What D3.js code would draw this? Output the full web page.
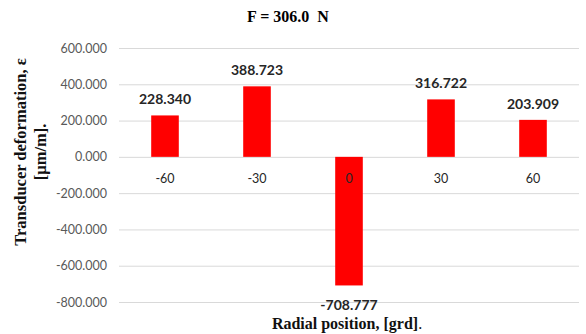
<!DOCTYPE html>
<html>
<head>
<meta charset="utf-8">
<script src="https://cdn.jsdelivr.net/npm/d3@7"></script>
<style>
body { margin: 0; background: #fff; }
</style>
</head>
<body>
<script>
var categories = ["-60", "-30", "0", "30", "60"];
var values = [228.340, 388.723, -708.777, 316.722, 203.909];
var yTicks = [600, 400, 200, 0, -200, -400, -600, -800];

var width = 586, height = 334;
var plotLeft = 119, plotRight = 579, plotTop = 48, plotBottom = 302;

// fixed 3 decimals, plain hyphen for negatives
var fmt = d => d3.format(".3f")(d).replace("\u2212", "-");

var svg = d3.select("body").append("svg")
  .attr("width", width)
  .attr("height", height)

var x = d3.scaleBand().domain(categories)
  .range([plotLeft, plotRight])
  .paddingInner(0.7)
  .paddingOuter(0.35)

var y = d3.scaleLinear().domain([-800, 600]).range([plotBottom, plotTop])

// gridlines
svg.append("g").selectAll("line")
  .data(yTicks)
  .enter().append("line")
  .attr("x1", plotLeft).attr("x2", plotRight)
  .attr("y1", d => y(d) + 0.5).attr("y2", d => y(d) + 0.5)
  .style("stroke", "#d9d9d9")
  .style("stroke-width", 1)

// y tick labels
var yAxis = d3.axisLeft(y).tickValues(yTicks).tickSize(0).tickPadding(12)
  .tickFormat(fmt)
svg.append("g")
  .attr("transform", "translate(" + plotLeft + ",0)")
  .call(yAxis)
  .call(g => g.select(".domain").remove())
  .selectAll("text")
  .style("font-family", "Lato")
  .style("font-size", "12.5px")
  .style("fill", "#595959")

// bars
svg.append("g").selectAll("rect")
  .data(values)
  .enter().append("rect")
  .attr("x", (d, i) => x(categories[i]))
  .attr("width", x.bandwidth())
  .attr("y", d => y(Math.max(0, d)))
  .attr("height", d => Math.abs(y(d) - y(0)))
  .attr("fill", "#ff0000")

// category labels
svg.append("g").selectAll("text")
  .data(categories)
  .enter().append("text")
  .attr("x", d => x(d) + x.bandwidth() / 2)
  .attr("y", y(0) + 26)
  .attr("text-anchor", "middle")
  .style("font-family", "Lato")
  .style("font-size", "12.5px")
  .style("fill", "#262626")
  .text(d => d)

// value labels
svg.append("g").selectAll("text")
  .data(values)
  .enter().append("text")
  .attr("x", (d, i) => x(categories[i]) + x.bandwidth() / 2)
  .attr("y", d => d >= 0 ? y(d) - 11 : y(d) + 25)
  .attr("text-anchor", "middle")
  .style("font-family", "Lato")
  .style("font-weight", "bold")
  .style("font-size", "14px")
  .style("fill", "#262626")
  .text(fmt)

// title
svg.append("text")
  .attr("x", 288).attr("y", 22)
  .attr("text-anchor", "middle")
  .style("font-family", "Liberation Serif")
  .style("font-weight", "bold")
  .style("font-size", "16px")
  .style("white-space", "pre")
  .text("F = 306.0  N")

// y axis title
var yt = svg.append("text")
  .attr("transform", "translate(26,152) rotate(-90)")
  .attr("text-anchor", "middle")
  .style("font-family", "Liberation Serif")
  .style("font-weight", "bold")
  .style("font-size", "16.5px")
  .style("fill", "#111")
yt.append("tspan").attr("x", 0).attr("y", 0).text("Transducer deformation, ε")
yt.append("tspan").attr("x", 0).attr("y", 20).text("[µm/m].")

// x axis title
var xt = svg.append("text")
  .attr("x", 347).attr("y", 329)
  .attr("text-anchor", "middle")
  .style("font-family", "Liberation Serif")
  .style("font-size", "16px")
  .style("fill", "#111")
xt.append("tspan").style("font-weight", "bold").text("Radial position, [grd]")
xt.append("tspan").text(".")
</script>
</body>
</html>
